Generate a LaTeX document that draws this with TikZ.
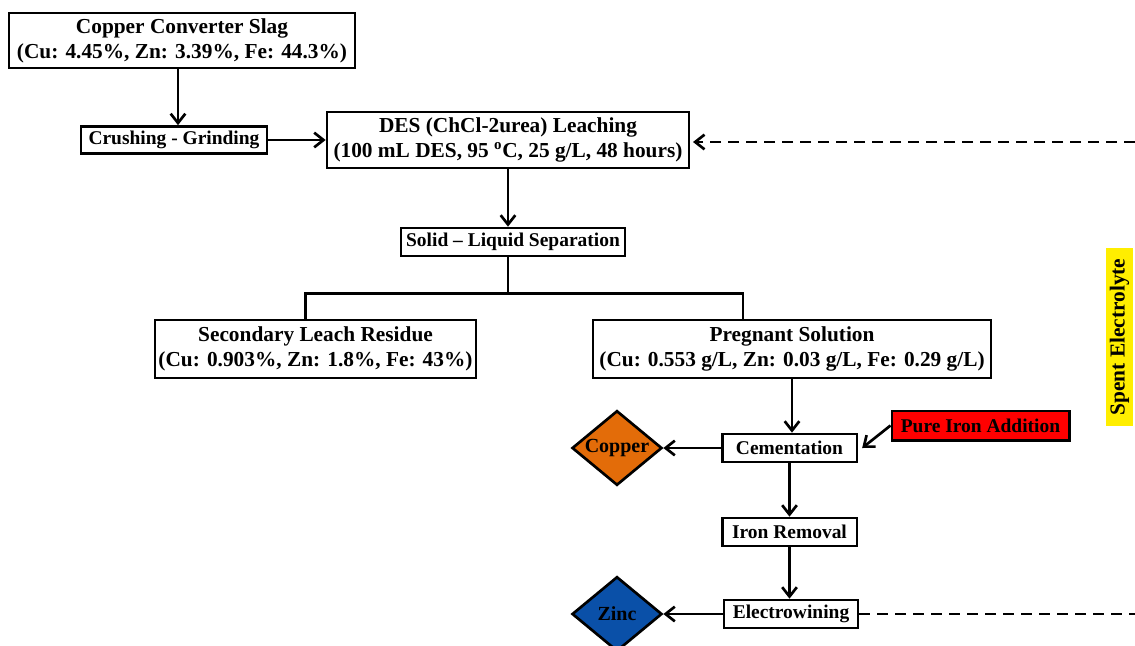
\documentclass[tikz,border=0pt]{standalone}
\usepackage{fontspec}
\setmainfont{Liberation Serif}
\usetikzlibrary{shapes.geometric, arrows.meta, positioning}
\definecolor{copperorange}{RGB}{227,108,9}
\definecolor{zincblue}{RGB}{10,80,168}
\definecolor{ironred}{RGB}{255,0,0}
\definecolor{spentyellow}{RGB}{255,238,0}
\tikzset{
    stage/.style={draw, rectangle, line width=2pt, inner sep=1pt, align=center, fill=white, font=\bfseries\fontsize{16}{18.8}\selectfont},
    unitop/.style={stage, font=\bfseries\fontsize{14.6}{17}\selectfont},
    product/.style={draw, diamond, line width=2pt, inner sep=0pt, minimum width=67.5pt, minimum height=56pt},
    flow/.style={-{Straight Barb[length=7pt, width=11pt, line width=2pt]}, line width=2pt},
    recycle/.style={flow, dash pattern=on 8pt off 5.5pt}
}

\begin{document}
\begin{tikzpicture}[x=0.75pt, y=-0.75pt]
    \useasboundingbox (0,0) rectangle (1135,646);

    % -----------------------------------------------------------------
    % FEED AND LEACHING
    % -----------------------------------------------------------------
    \node[stage, minimum width=259.5pt, minimum height=41.25pt] (slag) at (182,40.5)
        {Copper Converter Slag\\(Cu: 4.45\%, Zn: 3.39\%, Fe: 44.3\%)};
    \node[unitop, minimum width=139.5pt, minimum height=20.25pt] (crush) at (174,140) {Crushing - Grinding};
    \node[stage, minimum width=271.5pt, minimum height=42pt] (des) at (508,140)
        {DES (ChCl-2urea) Leaching\\(100 mL DES, 95 \textsuperscript{o}C, 25 g/L, 48 hours)};
    \node[unitop, minimum width=168pt, minimum height=21pt] (sls) at (513,242) {Solid -- Liquid Separation};

    \draw[flow] (slag.south -| 178,0) -- (crush.north -| 178,0);
    \draw[flow] (crush.east) -- (crush.east -| des.west);
    \draw[flow] (des.south) -- (des.south |- sls.north);

    % -----------------------------------------------------------------
    % SEPARATION
    % -----------------------------------------------------------------
    \node[stage, minimum width=240.75pt, minimum height=43.5pt] (residue) at (315.5,349)
        {Secondary Leach Residue\\(Cu: 0.903\%, Zn: 1.8\%, Fe: 43\%)};
    \node[stage, minimum width=298.5pt, minimum height=43.5pt] (pregnant) at (792,349)
        {Pregnant Solution\\(Cu: 0.553 g/L, Zn: 0.03 g/L, Fe: 0.29 g/L)};

    \draw[line width=2pt] (des.south |- sls.south) -- ++(0,36) coordinate (split);
    \draw[line width=2pt] (split) -| ([xshift=-7.5pt]residue.north);
    \draw[line width=2pt] (split) -| ([xshift=-36.75pt]pregnant.north);

    % -----------------------------------------------------------------
    % RECOVERY
    % -----------------------------------------------------------------
    \node[unitop, minimum width=101pt, minimum height=21pt] (cem) at (789.5,448) {Cementation};
    \node[unitop, fill=ironred, minimum width=133pt, minimum height=22pt] (iron) at (980.5,425.5) {Pure Iron Addition};
    \node[product, fill=copperorange, label={[font=\bfseries\fontsize{15}{16}\selectfont]center:Copper}] (copper) at (617,448) {};
    \node[unitop, minimum width=101pt, minimum height=21pt] (fe) at (789.5,532) {Iron Removal};
    \node[unitop, minimum width=100.5pt, minimum height=21pt] (ew) at (791,614) {Electrowining};
    \node[product, fill=zincblue, label={[font=\bfseries\fontsize{15}{16}\selectfont]center:Zinc}] (zinc) at (617,614) {};

    \draw[flow] (pregnant.south) -- (pregnant.south |- cem.north);
    \draw[flow] (iron.west) -- ([xshift=3pt]cem.east);
    \draw[flow] (cem.west) -- (copper.east);
    \draw[flow] (cem.south) -- (fe.north);
    \draw[flow] (fe.south) -- (fe.south |- ew.north);
    \draw[flow] (ew.west) -- (zinc.east);

    % -----------------------------------------------------------------
    % SPENT ELECTROLYTE RETURN
    % -----------------------------------------------------------------
    \coordinate (ewout) at (1135,614);
    \coordinate (desin) at (1135,142);
    \node[fill=spentyellow, rotate=90, inner sep=0pt, minimum width=133.5pt, minimum height=20pt,
        font=\bfseries\fontsize{16}{18}\selectfont] (spent) at (1119.5,337) {Spent Electrolyte};
    \draw[recycle, -] (ew.east) -- (ewout);
    \draw[recycle] (desin) -- ([xshift=2pt]des.east |- desin);

\end{tikzpicture}
\end{document}
